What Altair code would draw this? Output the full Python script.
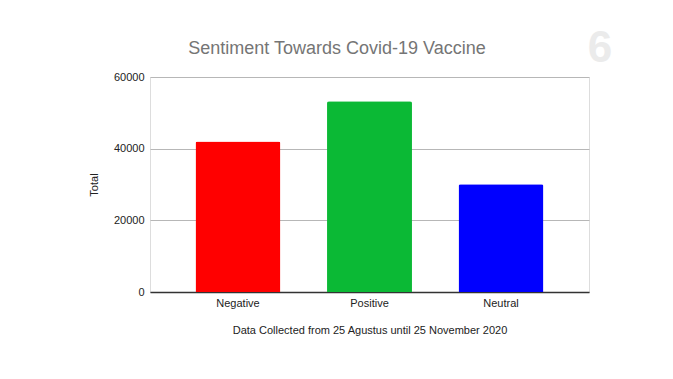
import altair as alt
import pandas as pd

categories = ["Negative", "Positive", "Neutral"]
totals = [42000, 53200, 30100]
colors = ["#ff0000", "#0bb935", "#0000ff"]
title_text = ["Sentiment Towards Covid-19 Vaccine"]
logo_text = ["6"]

df = pd.DataFrame({"Sentiment": categories, "Total": totals, "Color": colors})

FONT = "Liberation Sans"

bars = alt.Chart(df).mark_bar(cornerRadiusTopLeft=2, cornerRadiusTopRight=2).encode(
    x=alt.X("Sentiment:N", sort=categories,
            scale=alt.Scale(paddingInner=0.354, paddingOuter=0.346),
            axis=alt.Axis(title="Data Collected from 25 Agustus until 25 November 2020",
                          labelAngle=0, labelFont=FONT, labelFontSize=11, labelColor="#222222",
                          titleFont=FONT, titleFontSize=11, titleFontWeight="normal",
                          titleColor="#222222", titlePadding=16,
                          domainColor="#333333", domainWidth=1.3, ticks=False, labelPadding=5)),
    y=alt.Y("Total:Q", scale=alt.Scale(domain=[0, 60000]),
            axis=alt.Axis(values=[0, 20000, 40000, 60000], format="d", title="Total",
                          labelFont=FONT, labelFontSize=11, labelColor="#222222",
                          titleFont=FONT, titleFontSize=11, titleFontWeight="normal",
                          titleColor="#222222", titlePadding=14,
                          domain=False, ticks=False, labelPadding=6,
                          gridColor="#b7b7b7", gridWidth=1)),
    color=alt.Color("Color:N", scale=None),
)

title = alt.Chart(pd.DataFrame({"t": title_text})).mark_text(
    font=FONT, fontSize=18, color="#757575", align="center", baseline="middle"
).encode(text="t:N", x=alt.value(187), y=alt.value(-28))

logo = alt.Chart(pd.DataFrame({"t": logo_text})).mark_text(
    font=FONT, fontSize=44, fontWeight="bold", color="#ebebeb", align="center", baseline="middle"
).encode(text="t:N", x=alt.value(450), y=alt.value(-28))

chart = alt.layer(bars, title, logo).properties(
    width=439, height=215,
    padding={"left": 142, "top": 69, "right": 76, "bottom": 71},
    autosize=alt.AutoSizeParams(type="none"),
).configure_view(stroke=None).configure(background="white")

chart.save("out.html", embed_options={"renderer": "svg", "actions": False})
